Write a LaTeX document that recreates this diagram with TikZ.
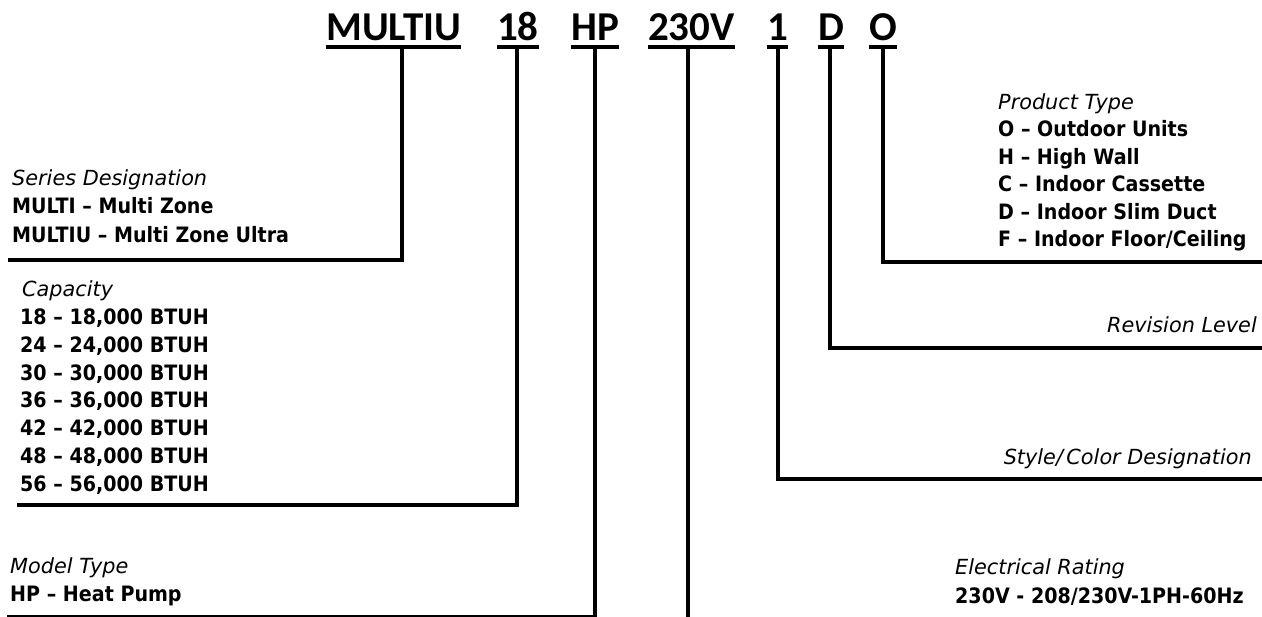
\documentclass[tikz,border=0pt]{standalone}
\usepackage{fontspec}
\setmainfont{DejaVu Sans}[FakeStretch=0.9]
\newfontfamily\headfont{DejaVu Sans}
\newfontfamily\codefont{Carlito}
\begin{document}
\begin{tikzpicture}[x=1pt,y=-1pt,
  code/.style={inner sep=0pt,anchor=base west,font=\codefont\bfseries\fontsize{41}{48}\selectfont},
  head/.style={inner sep=0pt,anchor=base west,font=\headfont\itshape\fontsize{20.8}{28}\selectfont},
  item/.style={inner sep=0pt,anchor=base west,font=\bfseries\fontsize{21.2}{28}\selectfont},
  uline/.style={line width=3.5pt},
  conn/.style={line width=3.5pt,line join=miter},
]
\useasboundingbox[fill=white] (0,0) rectangle (1262,617);

% code segments
\node[code] (cM)  at (326,41) {MULTIU};
\node[code] (c18) at (497,41) {18};
\node[code] (cHP) at (571,41) {HP};
\node[code] (cV)  at (648,41) {230V};
\node[code] (c1)  at (767,41) {1};
\node[code] (cD)  at (818,41) {D};
\node[code] (cO)  at (869,41) {O};
\foreach \n in {cM,c18,cHP,cV,c1,cD,cO}{
  \draw[uline] ([yshift=-6pt]\n.base west) -- ([yshift=-6pt]\n.base east);
  \path ([yshift=-6pt]\n.base) coordinate (u\n);
}

% corners and free ends
\coordinate (kM)  at (402,260);  \coordinate (eM)  at (8,260);
\coordinate (k18) at (517,505);  \coordinate (e18) at (17,505);
\coordinate (kHP) at (595,616.5);\coordinate (eHP) at (7,616.5);
\coordinate (kV)  at (688,622);
\coordinate (k1)  at (778,479);  \coordinate (e1)  at (1266,479);
\coordinate (kD)  at (830,348);  \coordinate (eD)  at (1266,348);
\coordinate (kO)  at (883,262);  \coordinate (eO)  at (1266,262);

\draw[conn] (ucM -| kM) |- (eM);
\draw[conn] (uc18 -| k18) |- (e18);
\draw[conn] (ucHP -| kHP) |- (eHP);
\draw[conn] (ucHP -| kHP) -- ([yshift=-6pt]kHP);
\draw[conn] (ucV -| kV) -- (kV);
\draw[conn] (uc1 -| k1) |- (e1);
\draw[conn] (ucD -| kD) |- (eD);
\draw[conn] (ucO -| kO) |- (eO);

% Series designation
\node[head] (serH) at (12,186) {Series Designation};
\node[item] (ser1) at (12,214) {MULTI – Multi Zone};
\node[item] (ser2) at (12,243) {MULTIU – Multi Zone Ultra};

% Capacity
\node[head] (capH) at (22,297) {Capacity};
\node[item] (cap1) at (20,325) {18 – 18,000 BTUH};
\node[item] (cap2) at (20,353) {24 – 24,000 BTUH};
\node[item] (cap3) at (20,381) {30 – 30,000 BTUH};
\node[item] (cap4) at (20,408) {36 – 36,000 BTUH};
\node[item] (cap5) at (20,436) {42 – 42,000 BTUH};
\node[item] (cap6) at (20,464) {48 – 48,000 BTUH};
\node[item] (cap7) at (20,492) {56 – 56,000 BTUH};

% Model type
\node[head] (modH) at (10,573) {Model Type};
\node[item] (mod1) at (10,601) {HP – Heat Pump};

% Product type
\node[head] (proH) at (998,110) {Product Type};
\node[item] (pro1) at (998,137) {O – Outdoor Units};
\node[item] (pro2) at (998,165) {H – High Wall};
\node[item] (pro3) at (998,192) {C – Indoor Cassette};
\node[item] (pro4) at (998,220) {D – Indoor Slim Duct};
\node[item] (pro5) at (998,247) {F – Indoor Floor/Ceiling};

% Revision, style
\node[head,anchor=base east] (revH) at (1257,333) {Revision Level};
\node[head,anchor=base east] (styH) at (1252,465) {Style/\,Color Designation};

% Electrical rating
\node[head] (eleH) at (955,575) {Electrical Rating};
\node[item] (ele1) at (955,603) {230V - 208/230V-1PH-60Hz};
\end{tikzpicture}
\end{document}
